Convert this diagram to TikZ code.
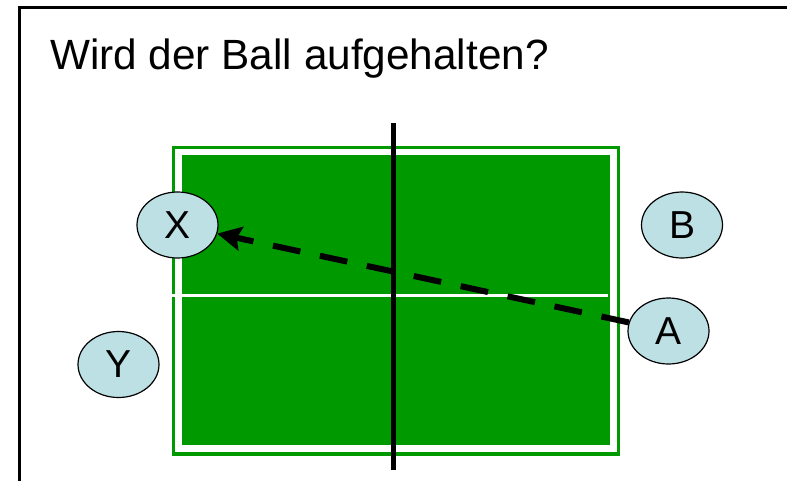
\documentclass[tikz,border=0pt]{standalone}
\usepackage{fontspec}
\setmainfont{Liberation Sans}
\usetikzlibrary{arrows.meta,shapes.geometric}
\definecolor{tablegreen}{HTML}{009900}
\definecolor{playerblue}{HTML}{BCE0E4}
\tikzset{
  player/.style={ellipse,draw=black,line width=1.2pt,fill=playerblue,
    minimum width=81pt,minimum height=66pt,inner sep=0pt,
    font=\fontsize{39}{42}\selectfont},
  frameline/.style={line width=3pt,black},
  netline/.style={line width=5pt,black},
  passarrow/.style={line width=6pt,black,dash pattern=on 28pt off 20pt,
    -{Stealth[length=24pt,width=24pt,inset=4pt]}}
}
\begin{document}
\begin{tikzpicture}[x=1pt,y=-1pt]
\useasboundingbox (0,0) rectangle (787,480);
% frame
\draw[frameline] (19,482) -- (19,7) -- (789,7);
% title
\node[anchor=base west,inner sep=0pt,font=\fontsize{42.3}{45}\selectfont] (title) at (50,69) {Wird der Ball aufgehalten?};
% table
\draw[tablegreen,line width=3.2pt] (173.5,147.5) rectangle (618.5,454);
\fill[tablegreen] (181.5,155) rectangle (610,445);
\fill[white] (172,294) rectangle (608,296.5);
% net
\draw[netline] (393,123) -- (393,470);
% players
\node[player] (X) at (177.5,225) {X};
\node[player] (B) at (682,225) {B};
\node[player] (A) at (668.5,331) {A};
\node[player] (Y) at (118.5,364.5) {Y};
% pass
\draw[passarrow] (A) -- (X);
\end{tikzpicture}
\end{document}
